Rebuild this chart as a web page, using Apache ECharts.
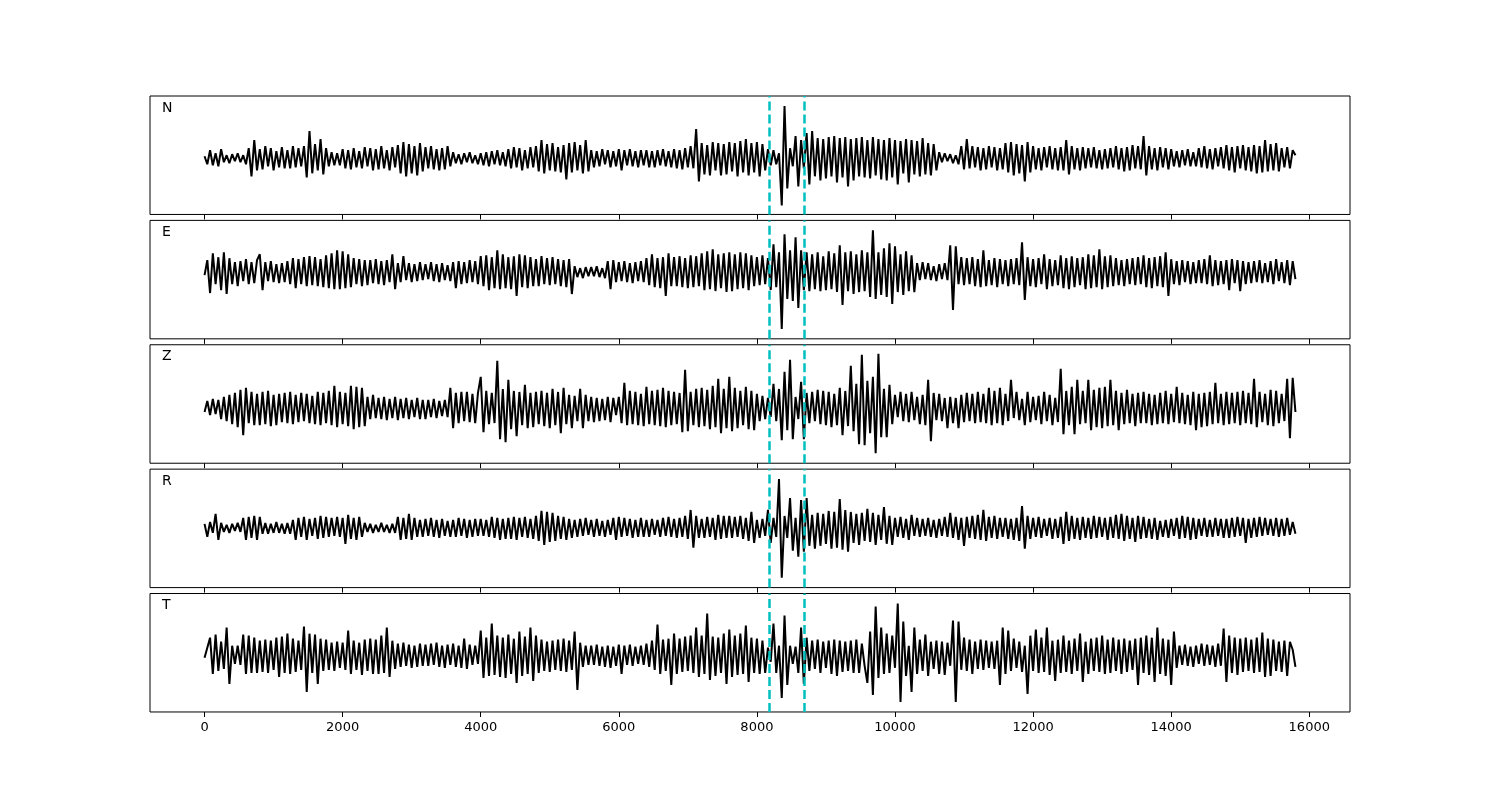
<!DOCTYPE html>
<html>
<head>
<meta charset="utf-8">
<script src="https://cdn.jsdelivr.net/npm/echarts@6/dist/echarts.min.js"></script>
<style>
  html, body { margin: 0; background: #fff; }
  #chart { width: 1500px; height: 800px; }
</style>
</head>
<body>
<div id="chart"></div>
<script>
// sample spacing of the traces (one value every SAMPLE_STEP samples)
const SAMPLE_STEP = 40;
const X_TICKS = [0, 2000, 4000, 6000, 8000, 10000, 12000, 14000, 16000];
const PICKS = [8175, 8680];
const COMPONENTS = ["N", "E", "Z", "R", "T"];

// amplitudes, one value per SAMPLE_STEP
const traceN = [
  2, -6, 8, -7, 5, -8, 9, -4, 3, -5,
  4, -3, 5, -4, 3, -6, 10, -18, 18, -12,
  9, -11, 12, -8, 10, -12, 7, -9, 11, -10,
  8, -10, 12, -9, 10, -8, 12, -19, 27, -15,
  14, -12, 19, -16, 10, -8, 6, -7, 5, -7,
  9, -10, 8, -11, 10, -9, 7, -10, 11, -8,
  10, -12, 9, -11, 12, -10, 8, -12, 11, -9,
  13, -15, 16, -18, 14, -15, 12, -17, 15, -13,
  11, -10, 12, -11, 9, -12, 10, -11, 12, -8,
  6, -5, 4, -6, 5, -4, 6, -5, 3, -6,
  5, -7, 6, -8, 7, -6, 8, -7, 6, -8,
  9, -10, 11, -9, 10, -12, 8, -10, 11, -9,
  12, -13, 18, -15, 14, -12, 15, -13, 11, -14,
  13, -21, 15, -14, 16, -12, 13, -15, 18, -13,
  8, -9, 7, -8, 9, -6, 8, -9, 7, -8,
  9, -12, 8, -7, 9, -8, 7, -9, 8, -7,
  8, -9, 7, -9, 8, -7, 9, -8, 7, -9,
  9, -10, 8, -11, 10, -9, 12, -10, 29, -23,
  15, -16, 13, -17, 16, -12, 15, -17, 14, -16,
  16, -13, 15, -18, 17, -14, 19, -17, 15, -14,
  16, -18, 14, -12, 9, -7, 8, -6, 5, -47,
  52, -30, 10, -8, 22, -28, 18, -10, 25, -26,
  27, -18, 20, -22, 19, -20, 21, -18, 22, -24,
  20, -19, 21, -28, 19, -22, 20, -18, 21, -19,
  18, -20, 21, -17, 19, -21, 18, -22, 20, -19,
  18, -26, 17, -15, 19, -24, 18, -16, 17, -18,
  20, -16, 15, -17, 14, -12, 6, -4, 5, -3,
  4, -5, 3, -6, 12, -11, 19, -10, 12, -9,
  11, -12, 10, -11, 12, -9, 11, -12, 10, -11,
  15, -14, 16, -17, 14, -15, 13, -23, 16, -14,
  12, -11, 10, -12, 11, -9, 12, -11, 10, -12,
  11, -12, 18, -16, 12, -11, 10, -12, 11, -10,
  10, -9, 11, -10, 8, -11, 9, -10, 10, -9,
  12, -11, 10, -13, 11, -12, 13, -10, 12, -11,
  22, -17, 12, -11, 10, -12, 11, -9, 10, -11,
  9, -8, 7, -9, 8, -7, 9, -8, 6, -8,
  10, -9, 12, -10, 9, -11, 10, -8, 11, -10,
  13, -12, 11, -14, 12, -10, 13, -12, 11, -13,
  13, -15, 12, -14, 18, -13, 14, -12, 15, -13,
  10, -9, 11, -10, 8, 3
];

const traceE = [
  -3, 12, -21, 19, -12, 15, -18, 20, -22, 14,
  -12, 10, -14, 11, -9, 13, -12, 10, -11, 12,
  18, -18, 10, -9, 11, -10, 8, -11, 9, -10,
  11, -12, 14, -16, 13, -12, 15, -14, 16, -13,
  15, -14, 13, -15, 17, -16, 19, -17, 22, -17,
  21, -16, 18, -15, 14, -12, 13, -14, 12, -13,
  12, -11, 13, -12, 11, -13, 12, -10, 18, -17,
  9, -10, 16, -8, 9, -10, 8, -9, 10, -8,
  8, -7, 10, -9, 8, -10, 9, -8, 7, -9,
  10, -16, 11, -12, 10, -11, 12, -10, 11, -12,
  16, -14, 17, -18, 15, -16, 22, -17, 18, -16,
  15, -17, 16, -24, 18, -15, 17, -16, 15, -14,
  13, -14, 16, -12, 14, -13, 15, -12, 13, -14,
  12, -15, 13, -22, 6, -5, 4, -6, 5, -4,
  5, -4, 6, -5, 4, -6, 11, -17, 12, -10,
  10, -9, 11, -10, 9, -11, 10, -9, 11, -10,
  14, -13, 18, -15, 14, -16, 15, -24, 19, -14,
  15, -14, 16, -15, 14, -16, 17, -15, 16, -14,
  19, -18, 21, -17, 23, -19, 18, -16, 19, -20,
  20, -19, 18, -17, 20, -16, 19, -18, 17, -14,
  15, -13, 17, -12, 14, -18, 28, -15, 20, -57,
  38, -27, 22, -29, 35, -36, 22, -18, 20, -19,
  18, -17, 20, -19, 16, -18, 21, -17, 19, -20,
  27, -33, 20, -19, 21, -22, 18, -20, 22, -19,
  20, -25, 42, -27, 20, -23, 24, -25, 29, -32,
  26, -20, 18, -23, 21, -19, 17, -20, 9, -8,
  10, -7, 9, -8, 6, -9, 8, -7, 9, -8,
  27, -38, 26, -12, 15, -13, 14, -12, 15, -14,
  13, -15, 22, -14, 12, -13, 14, -15, 13, -12,
  12, -14, 13, -12, 14, -13, 30, -28, 15, -14,
  13, -15, 14, -12, 18, -17, 13, -14, 12, -13,
  17, -16, 14, -17, 16, -15, 14, -13, 15, -17,
  18, -16, 17, -15, 23, -17, 16, -15, 17, -14,
  14, -13, 12, -14, 13, -12, 14, -13, 15, -12,
  17, -15, 14, -16, 15, -14, 16, -15, 20, -24,
  13, -12, 11, -13, 12, -10, 11, -12, 10, -11,
  12, -11, 13, -12, 17, -14, 12, -13, 11, -12,
  12, -18, 13, -11, 12, -19, 11, -12, 10, -11,
  11, -10, 12, -11, 9, -10, 11, -12, 13, -9,
  10, -11, 12, -13, 11, -7
];

const traceZ = [
  -3, 8, -6, 10, -5, 9, -10, 12, -12, 14,
  -15, 16, -18, 19, -26, 21, -14, 17, -16, 15,
  -16, 17, -15, 18, -17, 14, -16, 15, -13, 16,
  -14, 17, -15, 14, -13, 16, -12, 15, -14, 13,
  -15, 17, -16, 16, -14, 18, -16, 23, -18, 17,
  -15, 16, -17, 23, -20, 22, -18, 21, -17, 12,
  -10, 14, -9, 11, -10, 12, -11, 10, -9, 12,
  -11, 10, -9, 11, -10, 9, -8, 11, -10, 9,
  -10, 9, -8, 10, -9, 8, -7, 9, -8, 21,
  -19, 16, -14, 17, -12, 17, -13, 15, -14, 16,
  32, -23, 18, -15, 16, -14, 48, -30, 20, -33,
  29, -20, 18, -27, 17, -16, 24, -19, 16, -18,
  17, -15, 18, -17, 16, -19, 20, -16, 17, -24,
  21, -15, 14, -19, 13, -12, 20, -19, 14, -12,
  12, -13, 11, -12, 10, -11, 12, -13, 11, -6,
  12, -14, 26, -16, 18, -15, 17, -16, 15, -17,
  22, -15, 18, -16, 19, -17, 21, -18, 18, -16,
  17, -15, 16, -23, 39, -22, 17, -16, 20, -18,
  21, -17, 19, -20, 23, -18, 30, -24, 20, -19,
  32, -22, 21, -19, 18, -16, 22, -20, 18, -21,
  15, -12, 13, -10, 11, -8, 25, -12, 20, -31,
  37, -21, 49, -30, 12, -10, 27, -30, 16, -14,
  17, -12, 19, -15, 18, -16, 17, -18, 15, -16,
  21, -26, 18, -17, 43, -22, 25, -35, 54, -36,
  28, -24, 32, -44, 55, -28, 20, -28, 24, -15,
  14, -8, 17, -12, 15, -13, 17, -11, 12, -15,
  14, -16, 29, -32, 16, -11, 15, -12, 11, -19,
  12, -14, 11, -19, 14, -13, 16, -12, 15, -14,
  17, -13, 15, -14, 21, -16, 18, -14, 21, -16,
  15, -12, 29, -9, 17, -11, 10, -16, 17, -13,
  12, -11, 13, -15, 17, -12, 14, -16, 11, -13,
  40, -25, 18, -16, 22, -25, 29, -15, 18, -14,
  29, -21, 19, -18, 21, -19, 22, -17, 29, -16,
  18, -21, 16, -15, 19, -14, 15, -17, 16, -14,
  17, -14, 15, -16, 14, -15, 16, -14, 18, -15,
  15, -13, 22, -14, 16, -15, 14, -16, 17, -21,
  15, -18, 16, -17, 17, -15, 26, -14, 15, -16,
  17, -15, 16, -14, 17, -16, 18, -14, 16, -15,
  30, -18, 17, -13, 15, -16, 19, -17, 18, -14,
  15, -12, 30, -29, 31, -3
];

const traceR = [
  4, -9, 6, -5, 14, -12, 5, -4, 3, -5,
  4, -3, 5, -4, 10, -12, 11, -10, 12, -12,
  11, -6, 5, -6, 4, -5, 6, -5, 4, -6,
  5, -6, 8, -12, 10, -9, 11, -12, 9, -8,
  10, -11, 12, -10, 11, -9, 10, -8, 11, -9,
  10, -16, 13, -11, 10, -12, 11, -9, 5, -4,
  4, -5, 3, -4, 5, -4, 3, -5, 4, -5,
  11, -12, 10, -11, 14, -12, 10, -9, 8, -9,
  9, -8, 10, -9, 8, -10, 9, -8, 7, -9,
  8, -9, 10, -8, 9, -10, 8, -9, 9, -8,
  9, -8, 8, -9, 11, -10, 10, -12, 9, -11,
  10, -11, 11, -12, 10, -9, 11, -10, 9, -11,
  12, -13, 17, -17, 16, -14, 15, -13, 12, -11,
  11, -12, 9, -10, 8, -9, 9, -8, 10, -7,
  8, -9, 9, -8, 7, -9, 8, -7, 10, -12,
  11, -9, 10, -8, 9, -10, 8, -9, 10, -9,
  8, -9, 9, -7, 8, -9, 10, -8, 11, -9,
  9, -10, 10, -9, 12, -11, 18, -20, 12, -10,
  9, -10, 11, -9, 10, -12, 13, -11, 12, -10,
  12, -10, 11, -9, 12, -11, 10, -13, 16, -15,
  8, -10, 9, -8, 18, -15, 10, -9, 49, -50,
  12, -10, 30, -23, 10, -29, 28, -24, 30, -18,
  13, -21, 15, -18, 14, -16, 17, -21, 16, -20,
  29, -22, 18, -24, 16, -15, 14, -17, 15, -13,
  19, -14, 15, -17, 13, -12, 21, -16, 12, -17,
  10, -9, 11, -10, 9, -12, 13, -8, 10, -9,
  9, -8, 10, -9, 8, -10, 9, -8, 11, -9,
  15, -10, 11, -12, 10, -18, 11, -10, 12, -11,
  13, -12, 18, -13, 11, -10, 12, -11, 10, -9,
  10, -11, 9, -12, 10, -13, 22, -21, 12, -11,
  10, -9, 11, -10, 9, -8, 10, -11, 9, -10,
  11, -16, 16, -13, 12, -11, 10, -12, 11, -10,
  10, -11, 12, -10, 11, -9, 10, -12, 11, -10,
  13, -11, 14, -13, 12, -11, 10, -14, 12, -11,
  11, -10, 9, -11, 10, -12, 7, -9, 8, -10,
  9, -8, 10, -11, 12, -10, 11, -12, 10, -11,
  9, -8, 10, -9, 8, -9, 10, -8, 9, -10,
  9, -10, 10, -9, 11, -8, 10, -15, 9, -10,
  10, -9, 11, -8, 10, -7, 9, -8, 10, -9,
  9, -8, 10, -7, 6, -6
];

const traceT = [
  -2, 8, 18, -18, 21, -15, 14, -13, 28, -28,
  10, -8, 10, -9, 21, -18, 20, -17, 18, -17,
  15, -16, 16, -17, 15, -14, 18, -21, 19, -17,
  22, -18, 17, -16, 15, -14, 29, -36, 22, -17,
  21, -28, 17, -15, 16, -14, 13, -15, 14, -12,
  13, -14, 25, -18, 15, -14, 13, -19, 16, -15,
  17, -18, 16, -18, 20, -17, 28, -21, 15, -13,
  12, -11, 13, -10, 11, -12, 10, -11, 12, -10,
  11, -10, 12, -9, 13, -11, 10, -12, 11, -9,
  12, -11, 10, -12, 17, -13, 11, -9, 10, -8,
  25, -22, 18, -20, 32, -19, 20, -21, 18, -22,
  21, -18, 17, -27, 24, -20, 19, -18, 28, -25,
  20, -17, 16, -15, 14, -16, 15, -14, 16, -15,
  17, -16, 15, -14, 24, -34, 13, -11, 10, -9,
  10, -9, 11, -10, 9, -11, 10, -12, 9, -10,
  11, -18, 10, -9, 11, -10, 9, -8, 10, -9,
  12, -11, 15, -14, 31, -18, 16, -15, 17, -29,
  22, -18, 17, -16, 19, -15, 20, -17, 28, -21,
  20, -18, 42, -24, 19, -20, 18, -17, 22, -28,
  26, -21, 20, -19, 22, -18, 30, -26, 18, -17,
  17, -18, 15, -17, 8, -6, 32, -17, 10, -42,
  40, -29, 10, -8, 9, -17, 28, -28, 18, -15,
  15, -13, 16, -17, 14, -12, 15, -18, 16, -20,
  15, -16, 14, -15, 15, -17, 16, -17, 12, -10,
  -27, 24, -39, 49, -22, 28, -18, 22, -17, 20,
  -12, 52, -46, 34, -20, 10, -36, 28, -18, 16,
  -15, 21, -20, 14, -13, 15, -18, 14, -19, 13,
  -10, 35, -46, 34, -14, 18, -15, 16, -18, 14,
  -13, 16, -14, 15, -12, 14, -13, 15, -29, 28,
  -18, 25, -15, 17, -12, 14, -16, 10, -38, 20,
  -15, 26, -17, 18, -16, 28, -19, 15, -25, 16,
  -17, 20, -16, 15, -18, 17, -15, 22, -26, 14,
  -18, 17, -15, 18, -16, 20, -18, 16, -17, 18,
  -15, 16, -18, 17, -16, 15, -14, 17, -29, 18,
  -17, 20, -19, 18, -26, 28, -18, 17, -20, 16,
  -29, 24, -12, 10, -9, 11, -10, 9, -11, 10,
  -8, 12, -10, 11, -9, 10, -11, 12, -10, 27,
  -26, 20, -17, 18, -19, 17, -16, 18, -15, 16,
  -17, 18, -16, 23, -21, 17, -20, 16, -15, 14,
  -16, 15, -20, 14, 6, -11
];

const traces = [traceN, traceE, traceZ, traceR, traceT];

// panel layout (matplotlib-like subplots, hspace 0.05)
const PANEL_TOP = 96;
const PANEL_HEIGHT = 118.46;
const PANEL_GAP = 5.92;
const yLimits = [[-56, 62], [-67, 52], [-54, 64], [-60, 59], [-56, 62]];
const X_MIN = -790;
const X_MAX = 16590;

const chart = echarts.init(document.getElementById("chart"), null, {renderer: "canvas"});

const grids = [];
const xAxes = [];
const yAxes = [];
const series = [];
const labels = [];

traces.forEach((trace, i) => {
  const top = PANEL_TOP + i * (PANEL_HEIGHT + PANEL_GAP);
  const isLast = i === traces.length - 1;

  grids.push({
    left: 150,
    width: 1200,
    top: top,
    height: PANEL_HEIGHT,
    show: true,
    borderColor: "#000",
    borderWidth: 1,
    backgroundColor: "transparent",
  });

  xAxes.push({
    gridIndex: i,
    type: "value",
    position: "bottom",
    min: X_MIN,
    max: X_MAX,
    axisLine: {show: false, onZero: false},
    splitLine: {show: false},
    axisTick: {
      show: true,
      length: 5,
      customValues: X_TICKS,
      lineStyle: {color: "#000", width: 1},
    },
    axisLabel: {
      show: isLast,
      customValues: X_TICKS,
      formatter: (v) => String(v),
      color: "#000",
      fontSize: 13,
      fontFamily: "DejaVu Sans",
      margin: 9,
    },
  });

  yAxes.push({
    gridIndex: i,
    type: "value",
    min: yLimits[i][0],
    max: yLimits[i][1],
    show: false,
  });

  series.push({
    type: "line",
    xAxisIndex: i,
    yAxisIndex: i,
    data: trace.map((v, k) => [k * SAMPLE_STEP, v]),
    showSymbol: false,
    symbol: "none",
    animation: false,
    silent: true,
    lineStyle: {color: "#000", width: 2},
    markLine: {
      silent: true,
      symbol: "none",
      animation: false,
      label: {show: false},
      lineStyle: {color: "#00bfbf", width: 2.5, type: [9, 4]},
      data: PICKS.map((x) => ({xAxis: x})),
    },
  });

  labels.push({
    type: "text",
    left: 162,
    top: top + 5,
    style: {
      text: COMPONENTS[i],
      fill: "#000",
      font: "14px 'DejaVu Sans'",
    },
  });
});

chart.setOption({
  animation: false,
  backgroundColor: "#fff",
  grid: grids,
  xAxis: xAxes,
  yAxis: yAxes,
  series: series,
  graphic: labels,
});
</script>
</body>
</html>
